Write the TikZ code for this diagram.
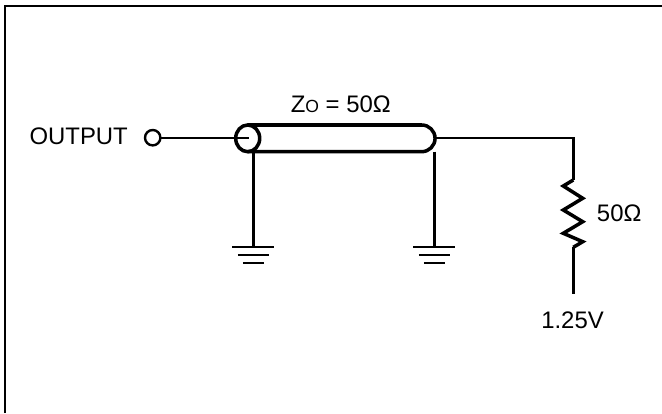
\documentclass[tikz,border=0pt]{standalone}
\usepackage{fontspec}
\setmainfont{Liberation Sans}
\tikzset{
	wire/.style={line width=1.7pt},
	thick wire/.style={line width=2.5pt},
	label/.style={inner sep=0pt,font=\fontsize{17}{20}\selectfont}
}
\begin{document}
\begin{tikzpicture}[x=0.025cm,y=-0.025cm]
		\useasboundingbox (0,0) rectangle (662,413);
		\draw[line width=2pt] (5,413) -- (5,6) -- (662,6);
		\draw (78.7,136) node[label] (output) {OUTPUT};
		\draw[wire] (152.7,137.7) circle (7.7);
		\coordinate (pin) at (160.4,137.7);
		\coordinate (core) at (249,137.7);
		\draw[wire] (pin) -- (core);
		\draw[thick wire] (247.7,125) -- (421.7,125) arc (-90:90:13.35) -- (247.7,151.7);
		\draw[thick wire] (247.7,138.35) ellipse (12 and 13.35);
		\draw (340.8,104) node[label] (zo) {Z{\fontsize{12.5}{15}\selectfont O} = 50Ω};
		% grounds
		\foreach \gx in {253.3,434.3} {
			\draw[wire] (\gx,151.7) -- (\gx,247);
			\draw[wire] (\gx-21,247) -- (\gx+21,247);
			\draw[wire] (\gx-15.5,255) -- (\gx+15.5,255);
			\draw[wire] (\gx-10.5,263.3) -- (\gx+10.5,263.3);
		}
		% load
		\coordinate (end) at (435,137.7);
		\draw[wire] (end) -- (573.3,137.7) -- (573.3,180);
		\draw[thick wire] (573.3,180) -- (563.3,186) -- (582.7,198.3) -- (563.3,210) -- (582.7,221.7) -- (563.3,233.3) -- (582.7,241.7) -- (573.3,247.3);
		\draw[wire] (573.3,247.3) -- (573.3,293.5);
		\draw (619.2,213) node[label] (load) {50Ω};
		\draw (572.5,320) node[label] (vtt) {1.25V};
\end{tikzpicture}
\end{document}
